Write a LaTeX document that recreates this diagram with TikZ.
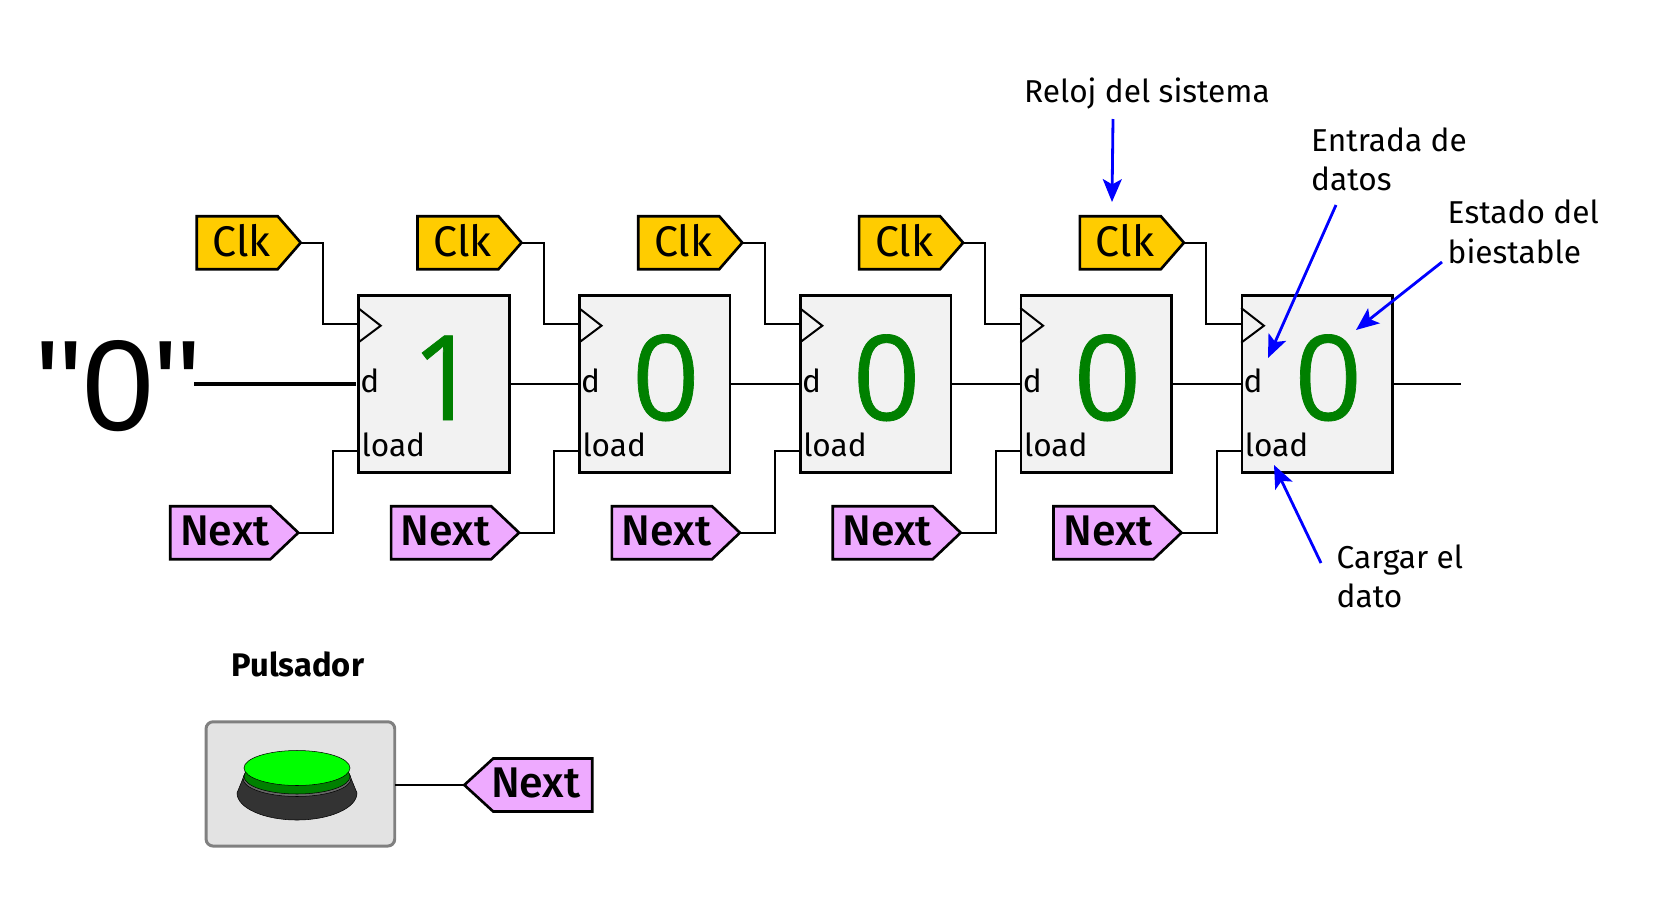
\documentclass[tikz,border=0pt]{standalone}
\usepackage{fontspec}
\setmainfont{Fira Sans}
\newfontfamily\numfont[FakeBold=0.6]{Open Sans}
\newfontfamily\quotefont{Liberation Sans}
\newfontfamily\tagfont{Fira Sans Medium}
\usetikzlibrary{shapes.symbols,arrows.meta}
\definecolor{clkyellow}{HTML}{FFCC00}
\definecolor{nextpink}{HTML}{EEAAFF}
\definecolor{blockgray}{HTML}{F2F2F2}
\definecolor{boxgray}{HTML}{E3E3E3}
\tikzset{
  wire/.style={line width=0.57pt},
  note/.style={blue,line width=0.8pt,-{Stealth[length=6.5pt,width=5.4pt,inset=1.5pt]}},
  tag/.style={signal,signal from=nowhere,draw,line width=0.75pt,outer sep=0pt,inner sep=0pt,minimum height=0.53cm,text depth=0.05cm},
  clktag/.style={tag,signal to=east,signal pointer angle=98,minimum width=1.04cm,fill=clkyellow,font=\fontsize{12.2}{14}\selectfont,execute at begin node=\hspace*{0.09cm}},
  nextbase/.style={tag,signal pointer angle=87,minimum width=1.28cm,fill=nextpink,font=\tagfont\fontsize{12.2}{14}\selectfont},
  nextout/.style={nextbase,signal to=east,execute at begin node=\hspace*{0.09cm}},
  nextin/.style={nextbase,signal to=west,signal pointer angle=85,execute at begin node=\hspace*{-0.05cm},execute at end node=\hspace*{0.09cm}},
  biestable/.style={draw,line width=0.75pt,outer sep=0pt,fill=blockgray,minimum width=1.505cm,minimum height=1.77cm},
  pin/.style={anchor=base west,inner sep=0pt,font=\fontsize{9}{11}\selectfont},
  digit/.style={anchor=base,inner sep=0pt,color=green!50!black,font=\numfont\fontsize{33.6}{40}\selectfont},
  caption/.style={anchor=base west,inner sep=0pt,align=left,font=\fontsize{9}{11.18}\selectfont}
}
\begin{document}
\begin{tikzpicture}
\useasboundingbox (0,0) rectangle (16.71,9.11);

\node at (1.186,4.81) [anchor=base,inner sep=0pt,font=\quotefont\fontsize{36.7}{42}\selectfont] (cero) {"0"};
\coordinate (entrada) at (1.94,5.27);
\coordinate (salida) at (14.61,5.27);

\node at (4.34,5.27) [biestable] (ffa) {};
\draw[wire] (3.58,6.03) -- (3.807,5.853) -- (3.58,5.683);
\node at (3.597,5.19) [pin] (da) {d};
\node at (3.61,4.55) [pin] (loada) {load};
\node at (4.45,4.91) [digit] (qa) {1};
\node at (3.007,6.683) [clktag,anchor=east] (clka) {Clk};
\node at (2.983,3.783) [nextout,anchor=east] (nexta) {Next};
\draw[wire] (clka.east) -- ++(0.223,0) |- ([yshift=0.603cm]ffa.west);
\draw[wire] (nexta.east) -- ++(0.35,0) |- ([yshift=-0.67cm]ffa.west);

\node at (6.548,5.27) [biestable] (ffb) {};
\draw[wire] (5.788,6.03) -- (6.015,5.853) -- (5.788,5.683);
\node at (5.805,5.19) [pin] (db) {d};
\node at (5.818,4.55) [pin] (loadb) {load};
\node at (6.658,4.91) [digit] (qb) {0};
\node at (5.215,6.683) [clktag,anchor=east] (clkb) {Clk};
\node at (5.191,3.783) [nextout,anchor=east] (nextb) {Next};
\draw[wire] (clkb.east) -- ++(0.223,0) |- ([yshift=0.603cm]ffb.west);
\draw[wire] (nextb.east) -- ++(0.35,0) |- ([yshift=-0.67cm]ffb.west);

\node at (8.756,5.27) [biestable] (ffc) {};
\draw[wire] (7.996,6.03) -- (8.223,5.853) -- (7.996,5.683);
\node at (8.013,5.19) [pin] (dc) {d};
\node at (8.026,4.55) [pin] (loadc) {load};
\node at (8.866,4.91) [digit] (qc) {0};
\node at (7.423,6.683) [clktag,anchor=east] (clkc) {Clk};
\node at (7.399,3.783) [nextout,anchor=east] (nextc) {Next};
\draw[wire] (clkc.east) -- ++(0.223,0) |- ([yshift=0.603cm]ffc.west);
\draw[wire] (nextc.east) -- ++(0.35,0) |- ([yshift=-0.67cm]ffc.west);

\node at (10.964,5.27) [biestable] (ffd) {};
\draw[wire] (10.204,6.03) -- (10.431,5.853) -- (10.204,5.683);
\node at (10.221,5.19) [pin] (dd) {d};
\node at (10.234,4.55) [pin] (loadd) {load};
\node at (11.074,4.91) [digit] (qd) {0};
\node at (9.631,6.683) [clktag,anchor=east] (clkd) {Clk};
\node at (9.607,3.783) [nextout,anchor=east] (nextd) {Next};
\draw[wire] (clkd.east) -- ++(0.223,0) |- ([yshift=0.603cm]ffd.west);
\draw[wire] (nextd.east) -- ++(0.35,0) |- ([yshift=-0.67cm]ffd.west);

\node at (13.172,5.27) [biestable] (ffe) {};
\draw[wire] (12.412,6.03) -- (12.639,5.853) -- (12.412,5.683);
\node at (12.429,5.19) [pin] (de) {d};
\node at (12.442,4.55) [pin] (loade) {load};
\node at (13.282,4.91) [digit] (qe) {0};
\node at (11.839,6.683) [clktag,anchor=east] (clke) {Clk};
\node at (11.815,3.783) [nextout,anchor=east] (nexte) {Next};
\draw[wire] (clke.east) -- ++(0.223,0) |- ([yshift=0.603cm]ffe.west);
\draw[wire] (nexte.east) -- ++(0.35,0) |- ([yshift=-0.67cm]ffe.west);

\draw[line width=1pt] (entrada) -- ([xshift=-0.024cm]ffa.west);
\draw[wire] (ffa.east) -- (ffb.west);
\draw[wire] (ffb.east) -- (ffc.west);
\draw[wire] (ffc.east) -- (ffd.west);
\draw[wire] (ffd.east) -- (ffe.west);
\draw[wire] (ffe.east) -- (salida);

\node at (10.235,8.09) [caption] (reloj) {Reloj del sistema};
\node at (13.105,7.205) [caption] (entradadatos) {Entrada de\\datos};
\node at (14.47,6.48) [caption] (estado) {Estado del\\biestable};
\node at (13.36,3.035) [caption] (cargar) {Cargar el\\dato};

\coordinate (relojA) at (11.13,7.92);
\coordinate (relojB) at (11.12,7.09);
\coordinate (entradaA) at (13.36,7.06);
\coordinate (entradaB) at (12.68,5.53);
\coordinate (estadoA) at (14.42,6.49);
\coordinate (estadoB) at (13.56,5.81);
\coordinate (cargarA) at (13.21,3.48);
\coordinate (cargarB) at (12.74,4.46);
\draw[note] (relojA) -- (relojB);
\draw[note] (entradaA) -- (entradaB);
\draw[note] (estadoA) -- (estadoB);
\draw[note] (cargarA) -- (cargarB);

\node at (2.98,2.345) [anchor=base,inner sep=0pt,font=\fontsize{9.3}{11}\selectfont\bfseries] (titulo) {Pulsador};
\node at (3.004,1.271) [draw=gray,line width=0.85pt,fill=boxgray,rounded corners=2pt,outer sep=0pt,minimum width=1.887cm,minimum height=1.243cm] (caja) {};
\fill[fill=black!80,draw=black,line width=0.15pt] (2.37,1.18) arc[start angle=180,end angle=360,x radius=0.6,y radius=0.27] -- (3.48,1.4) arc[start angle=0,end angle=180,x radius=0.51,y radius=0.2] -- cycle;
\draw[fill=black!60,line width=0.15pt] (2.97,1.325) ellipse (0.54 and 0.18);
\draw[fill=green!50!black,line width=0.15pt] (2.97,1.345) ellipse (0.53 and 0.175);
\draw[fill=green,line width=0.15pt] (2.97,1.43) ellipse (0.53 and 0.175);

\node at (4.643,1.26) [nextin,anchor=west] (nextf) {Next};
\draw[wire] (caja.east |- nextf.west) -- (nextf.west);

\end{tikzpicture}
\end{document}
